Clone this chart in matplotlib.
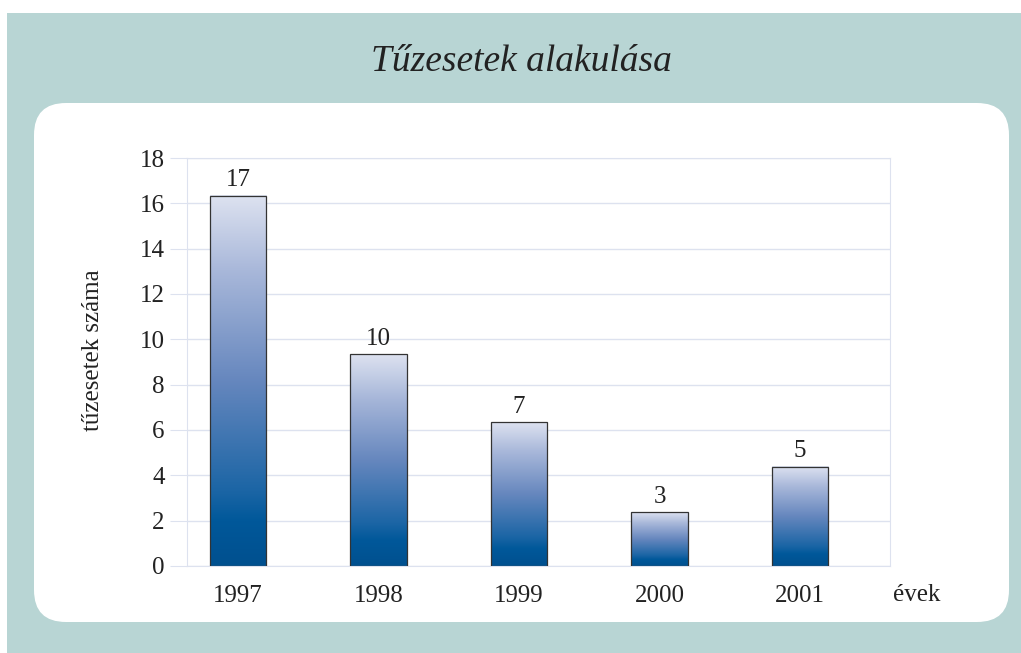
import numpy as np
import matplotlib
matplotlib.use('Agg')
import matplotlib.pyplot as plt
from matplotlib.patches import FancyBboxPatch, Rectangle
from matplotlib.colors import LinearSegmentedColormap

# --- DATA ---
years = ['1997', '1998', '1999', '2000', '2001']
labels = [17, 10, 7, 3, 5]                      # printed value labels
bar_heights = [16.33, 9.35, 6.35, 2.37, 4.38]   # bar tops as drawn in the reference
y_ticks = [0, 2, 4, 6, 8, 10, 12, 14, 16, 18]

W, H = 1021, 653
TEAL = '#B8D5D4'
GRID = '#DDE2EF'
SERIF = ['Liberation Serif', 'DejaVu Serif']
FS = 18

fig = plt.figure(figsize=(W / 100, H / 100), dpi=100, facecolor='white')

# background panels in pixel coordinates
bg = fig.add_axes([0, 0, 1, 1])
bg.set_xlim(0, W)
bg.set_ylim(H, 0)
bg.axis('off')
bg.add_patch(Rectangle((7, 13), W - 7, H - 13, facecolor=TEAL, edgecolor='none'))
bg.add_patch(FancyBboxPatch((34 + 32, 103 + 32), 975 - 64, 519 - 64,
                            boxstyle='round,pad=32', facecolor='white', edgecolor='none'))
bg.text(521, 62, 'Tűzesetek alakulása', ha='center', va='center', fontsize=27,
        style='italic', family=SERIF, color='#222222')

# --- PLOT AREA ---
x0, x1, y0, y1 = 187, 890, 158, 566
ax = fig.add_axes([x0 / W, 1 - y1 / H, (x1 - x0) / W, (y1 - y0) / H])
XLIM = (-0.363, 4.64)
ax.set_xlim(*XLIM)
ax.set_ylim(0, 18)
ax.set_yticks(y_ticks)
ax.set_xticks(range(len(years)))
ax.set_xticklabels(years)
ax.yaxis.grid(True, color=GRID, lw=1)
ax.set_axisbelow(True)
for s in ax.spines.values():
    s.set_color(GRID)
ax.tick_params(axis='y', length=12, color=GRID, labelsize=FS, pad=4)
ax.tick_params(axis='x', length=0, labelsize=FS, pad=14)
for t in ax.get_xticklabels() + ax.get_yticklabels():
    t.set_family(SERIF)
    t.set_color('#222222')
ax.set_ylabel('tűzesetek száma', fontsize=FS, family=SERIF, color='#222222')
ax.yaxis.set_label_coords(-0.118, 0.53)

# gradient bars
cmap = LinearSegmentedColormap.from_list('bluefade', [
    (0.0, '#00508F'), (0.12, '#00589A'), (0.2, '#1B65A5'),
    (0.5, '#6687BE'), (0.8, '#A9B8DA'), (1.0, '#DDE2F0')])
grad = np.linspace(0, 1, 256).reshape(-1, 1)
bw = 0.4
for i, (h, lab) in enumerate(zip(bar_heights, labels)):
    ax.imshow(grad, cmap=cmap, origin='lower', aspect='auto',
              extent=(i - bw / 2, i + bw / 2, 0, h), zorder=2)
    ax.add_patch(Rectangle((i - bw / 2, 0), bw, h, facecolor='none',
                           edgecolor='#333333', lw=0.9, zorder=3))
    ax.text(i, h + 0.2, str(lab), ha='center', va='bottom', fontsize=FS,
            family=SERIF, color='#222222')
ax.set_xlim(*XLIM)
ax.set_ylim(0, 18)

ax.text(1.038, -0.045, 'évek', transform=ax.transAxes, ha='center', va='top',
        fontsize=FS, family=SERIF, color='#222222')

fig.savefig('out.png', dpi=100, facecolor='white')
